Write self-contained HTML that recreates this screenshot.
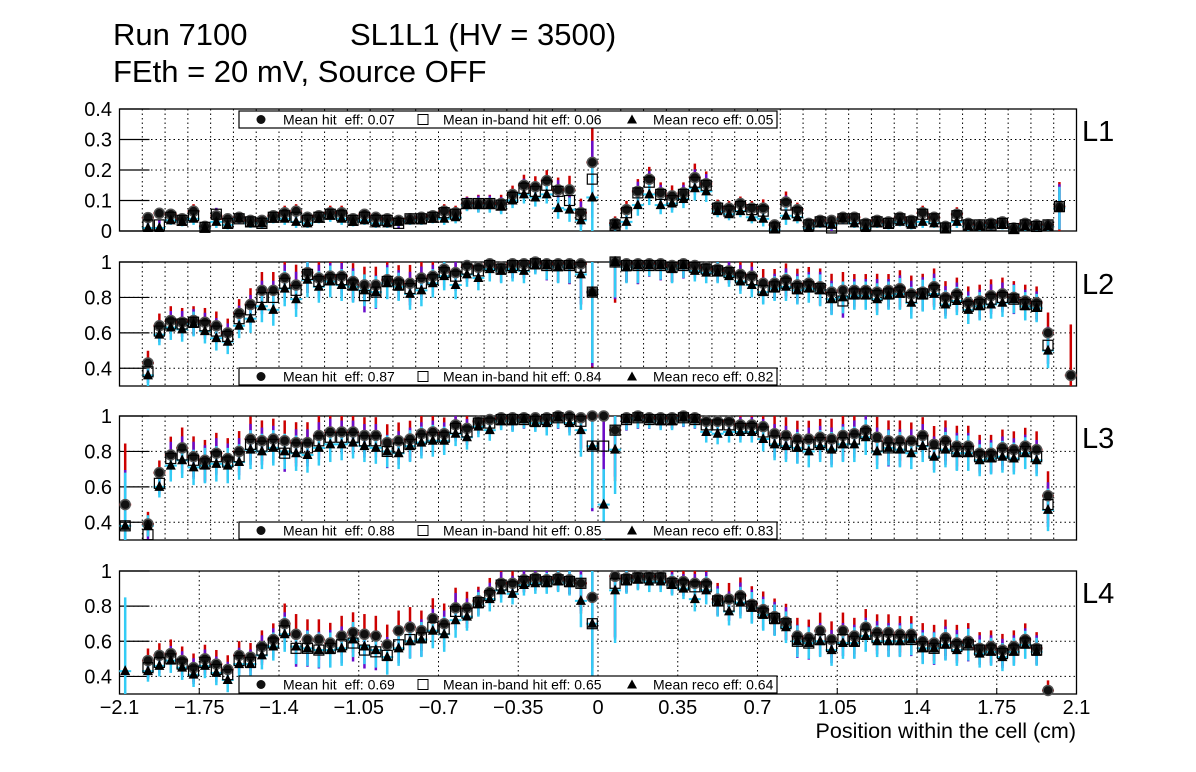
<!DOCTYPE html>
<html><head><meta charset="utf-8">
<style>
html,body{margin:0;padding:0;background:#fff;}
svg{display:block;font-family:"Liberation Sans",Arial,sans-serif;}
</style></head>
<body>
<svg id="c" width="1196" height="772" viewBox="0 0 1196 772">
<text x="113" y="45" font-size="31">Run 7100</text>
<text x="350" y="45" font-size="31">SL1L1 (HV = 3500)</text>
<text x="113" y="82" font-size="31">FEth = 20 mV, Source OFF</text>
<text x="1076" y="738" font-size="21.5" text-anchor="end">Position within the cell (cm)</text>
<g id="plots"></g>
</svg>
<script>
const xTicks=["\u22122.1","\u22121.75","\u22121.4","\u22121.05","\u22120.7","\u22120.35","0","0.35","0.7","1.05","1.4","1.75","2.1"];
const layers=["L1","L2","L3","L4"];
const meanHit=["0.07","0.87","0.88","0.69"];
const meanInband=["0.06","0.84","0.85","0.65"];
const meanReco=["0.05","0.82","0.83","0.64"];
const N=null;
const hitL1=[N,N,.044,.058,.055,.04,.065,.015,.05,.04,.045,.035,.035,.05,.06,.065,.045,.05,.06,.06,.04,.055,.045,.04,.035,.04,.045,.05,.065,.06,.09,.09,.09,.09,.12,.15,.145,.165,.135,.135,.06,.225,N,.025,.07,.13,.17,.125,.115,.125,.175,.155,.08,.075,.09,.075,.075,.02,.095,.07,.025,.035,.035,.045,.045,.025,.035,.03,.045,.035,.06,.045,.015,.055,.025,.02,.025,.03,.01,.025,.02,.02,.08,N];
const inbL1=[N,N,.02,.02,.045,.035,.05,.012,.055,.025,.04,.03,.025,.045,.05,.045,.035,.045,.055,.05,.035,.045,.035,.035,.025,.04,.04,.045,.06,.055,.09,.09,.09,.085,.11,.14,.13,.15,.13,.1,.055,.17,N,.02,.06,.125,.16,.12,.1,.12,.16,.15,.075,.065,.08,.07,.065,.01,.085,.06,.02,.03,.01,.04,.04,.02,.03,.025,.04,.03,.055,.04,.01,.05,.02,.02,.02,.025,.008,.02,.015,.02,.08,N];
const recoL1=[N,N,.01,.01,.035,.03,.04,.01,.03,.02,.04,.025,.025,.04,.04,.03,.025,.04,.05,.04,.03,.035,.025,.025,.03,.035,.035,.04,.04,.045,.085,.085,.085,.08,.1,.12,.11,.12,.075,.07,.035,.11,N,.02,.03,.085,.12,.085,.09,.105,.14,.13,.065,.055,.065,.045,.04,.005,.05,.045,.01,.025,.02,.04,.025,.01,.025,.02,.03,.02,.03,.025,.005,.03,.015,.015,.02,.02,.005,.015,.015,.015,.075,N];
const errL1=[N,N,.015,.015,.015,.015,.02,.01,.02,.015,.015,.015,.015,.015,.02,.02,.015,.015,.02,.02,.015,.015,.015,.015,.015,.015,.015,.015,.02,.02,.02,.025,.025,.025,.025,.03,.03,.03,.035,.04,.04,.12,N,.02,.025,.035,.035,.03,.03,.03,.04,.035,.02,.02,.02,.02,.025,.015,.03,.02,.015,.015,.015,.015,.015,.015,.015,.015,.015,.015,.02,.015,.015,.02,.015,.015,.015,.015,.015,.015,.015,.015,.07,N];
const hitL2=[N,N,.43,.64,.67,.66,.67,.66,.64,.6,.71,.76,.84,.84,.91,.87,.94,.91,.92,.92,.89,.87,.87,.9,.89,.88,.91,.92,.96,.94,.98,.97,.99,.97,.99,.99,1,.99,.99,.99,.99,.83,N,1,.99,.99,.99,.99,.98,.99,.98,.97,.96,.95,.93,.92,.88,.88,.9,.87,.88,.86,.83,.84,.84,.84,.83,.84,.85,.82,.83,.86,.8,.82,.77,.78,.81,.82,.8,.78,.77,.6,N,.36];
const inbL2=[N,N,.38,.61,.65,.65,.66,.64,.61,.58,.68,.73,.8,.8,.88,.84,.93,.89,.9,.9,.87,.81,.83,.89,.87,.85,.88,.9,.94,.92,.96,.95,.98,.96,.98,.98,.99,.98,.98,.98,.97,.83,N,1,.98,.98,.98,.98,.97,.98,.97,.96,.95,.94,.91,.9,.84,.86,.88,.85,.86,.85,.8,.78,.82,.82,.81,.82,.83,.8,.82,.84,.78,.8,.75,.76,.79,.8,.79,.76,.75,.53,N,N];
const recoL2=[N,N,.36,.59,.63,.62,.65,.61,.57,.55,.64,.68,.75,.73,.85,.79,.9,.86,.89,.87,.86,.84,.83,.88,.86,.82,.84,.88,.92,.87,.93,.91,.96,.95,.96,.95,.98,.98,.97,.98,.93,.83,N,1,.97,.98,.98,.98,.96,.98,.95,.94,.94,.92,.89,.87,.83,.85,.86,.84,.85,.84,.79,.8,.81,.81,.79,.81,.82,.77,.81,.82,.76,.78,.73,.75,.76,.77,.79,.75,.74,.5,N,N];
const errL2=[N,N,.06,.06,.07,.07,.07,.07,.07,.07,.07,.08,.09,.09,.1,.1,.1,.09,.09,.09,.09,.09,.09,.09,.08,.09,.09,.08,.08,.08,.07,.07,.07,.07,.07,.07,.05,.08,.09,.1,.2,.4,N,.2,.09,.1,.06,.08,.08,.07,.06,.06,.06,.06,.07,.07,.07,.07,.08,.08,.08,.09,.09,.09,.08,.08,.09,.08,.09,.09,.09,.09,.08,.08,.08,.08,.08,.08,.08,.08,.08,.1,N,.25];
const hitL3=[.5,N,.39,.68,.78,.82,.77,.75,.79,.76,.8,.87,.86,.87,.86,.85,.85,.89,.91,.91,.91,.89,.89,.85,.86,.87,.9,.91,.9,.95,.93,.97,.98,.99,.99,.99,.99,.99,1,1,.99,1,1,.92,.99,1,.99,.99,.99,1,.99,.97,.97,.97,.95,.95,.94,.9,.89,.87,.87,.88,.87,.89,.9,.92,.88,.86,.86,.86,.89,.84,.86,.83,.83,.79,.79,.82,.81,.83,.81,.55,N,N];
const inbL3=[.38,N,.33,.62,.76,.78,.75,.73,.77,.74,.77,.84,.83,.84,.79,.82,.82,.86,.88,.88,.88,.86,.86,.8,.82,.84,.87,.88,.88,.93,.91,.96,.96,.98,.98,.98,.97,.98,.99,.98,.97,.83,.83,.92,.98,.99,.98,.98,.98,.99,.98,.95,.95,.95,.93,.93,.91,.86,.85,.83,.84,.85,.83,.85,.87,.9,.83,.82,.82,.83,.86,.79,.83,.8,.8,.77,.77,.79,.78,.8,.77,.5,N,N];
const recoL3=[.38,N,.38,.6,.72,.75,.71,.72,.73,.72,.74,.81,.8,.82,.8,.79,.78,.82,.84,.84,.85,.83,.82,.8,.79,.83,.85,.86,.86,.9,.88,.94,.92,.97,.97,.98,.96,.96,.99,.96,.92,.83,.5,.81,.98,.99,.98,.97,.97,.99,.98,.91,.9,.91,.91,.91,.87,.84,.83,.82,.8,.83,.81,.84,.84,.88,.8,.82,.81,.79,.83,.77,.81,.79,.79,.75,.76,.77,.76,.79,.75,.47,N,N];
const errL3=[.3,N,.06,.06,.09,.1,.1,.1,.1,.1,.1,.11,.1,.1,.1,.1,.1,.1,.1,.09,.09,.09,.09,.09,.09,.09,.09,.09,.08,.07,.07,.06,.06,.05,.06,.05,.05,.07,.06,.07,.15,.35,.2,.25,.06,.06,.05,.05,.05,.05,.05,.06,.06,.06,.06,.06,.07,.09,.09,.09,.09,.09,.1,.1,.1,.1,.1,.1,.1,.09,.09,.09,.1,.1,.1,.09,.09,.09,.09,.09,.09,.12,N,N];
const hitL4=[N,N,.49,.52,.53,.49,.45,.5,.47,.44,.52,.51,.57,.61,.7,.64,.61,.61,.59,.63,.65,.64,.63,.58,.66,.68,.66,.73,.7,.79,.79,.83,.88,.93,.93,.95,.96,.95,.96,.95,.93,.85,N,.97,.96,.97,.97,.97,.94,.94,.93,.93,.84,.84,.86,.81,.78,.74,.71,.63,.62,.66,.61,.66,.63,.68,.65,.65,.64,.64,.6,.59,.62,.59,.6,.56,.57,.55,.57,.61,.56,.32,N,N];
const inbL4=[N,N,.45,.48,.5,.47,.43,.48,.44,.41,.49,.48,.55,.59,.66,.56,.56,.55,.56,.58,.59,.55,.54,.52,.58,.61,.62,.68,.67,.77,.76,.82,.86,.92,.91,.94,.95,.94,.95,.94,.93,.7,N,.93,.95,.96,.96,.96,.93,.92,.91,.91,.83,.8,.84,.8,.76,.73,.7,.6,.59,.61,.57,.61,.6,.64,.62,.61,.61,.61,.57,.56,.59,.57,.58,.55,.55,.53,.55,.59,.55,N,N,N];
const recoL4=[.43,N,.43,.46,.49,.45,.41,.46,.42,.38,.47,.47,.52,.57,.64,.57,.56,.55,.55,.56,.61,.57,.55,.51,.56,.6,.61,.66,.64,.72,.74,.81,.84,.89,.87,.92,.93,.93,.94,.93,.83,.7,N,.89,.94,.95,.94,.94,.92,.9,.84,.89,.82,.77,.82,.79,.75,.72,.68,.6,.59,.6,.55,.59,.59,.63,.6,.6,.6,.61,.56,.56,.58,.55,.58,.53,.54,.51,.54,.58,.54,N,N,N];
const errL4=[.42,N,.06,.06,.07,.07,.07,.07,.07,.07,.07,.07,.08,.08,.1,.1,.1,.1,.1,.1,.1,.1,.1,.1,.1,.1,.1,.1,.1,.1,.08,.07,.07,.07,.06,.06,.06,.06,.06,.07,.15,.35,N,.3,.07,.06,.06,.06,.06,.06,.07,.08,.08,.08,.09,.09,.09,.09,.09,.09,.09,.09,.09,.09,.09,.09,.09,.09,.09,.09,.09,.09,.09,.09,.09,.08,.08,.08,.08,.08,.08,.05,N,N];
const hitS=[hitL1,hitL2,hitL3,hitL4], inbS=[inbL1,inbL2,inbL3,inbL4], recoS=[recoL1,recoL2,recoL3,recoL4], errS=[errL1,errL2,errL3,errL4];
const yTickL1=["0","0.1","0.2","0.3","0.4"], yTickOther=["0.4","0.6","0.8","1"];

const NS="http://www.w3.org/2000/svg";
const X0=119.5,X1=1076.5,XMIN=-2.1,XMAX=2.1;
const xs=v=>X0+(v-XMIN)/(XMAX-XMIN)*(X1-X0);
const panels=[[109,231,0,0.4],[262,386,0.3,1.0],[416,540,0.3,1.0],[571,694,0.3,1.0]];
const root=document.getElementById('plots');
function mk(tag,attrs,parent){const e=document.createElementNS(NS,tag);for(const k in attrs)e.setAttribute(k,attrs[k]);(parent||root).appendChild(e);return e;}

panels.forEach((p,pi)=>{
  const [top,bot,ymin,ymax]=p;
  const ys=v=>bot-(v-ymin)/(ymax-ymin)*(bot-top);
  const g=mk('g',{});
  
  
  const gx=[];
  if(pi<3){for(let i=-20;i<=20;i++)gx.push(i/10);}else{for(let i=-5;i<=5;i++)gx.push(i*0.35);}
  gx.forEach(v=>{const l=mk('line',{x1:xs(v),x2:xs(v),y1:top,y2:bot,stroke:'#000','stroke-width':1,'stroke-dasharray':'1.5,3'},g);
    });
  const yt=pi===0?yTickL1:yTickOther;
  yt.forEach(t=>{const v=parseFloat(t);const y=ys(v);
    if(y>top+1&&y<bot-1){const l=mk('line',{x1:X0,x2:X1,y1:y,y2:y,stroke:'#000','stroke-width':1,'stroke-dasharray':'1.5,3'},g);
      }
    const tk=mk('line',{x1:X0,x2:X0+30,y1:y,y2:y,stroke:'#000','stroke-width':1.2},g);
    
    const tx=mk('text',{x:112,y:y+7,'font-size':20,'text-anchor':'end'},g);tx.textContent=t;
    
  });
  const fr=mk('rect',{x:X0,y:top,width:X1-X0,height:bot-top,fill:'none',stroke:'#000','stroke-width':1.3},g);
  
  const lab=mk('text',{x:1082,y:top+32,'font-size':29},g);lab.textContent=layers[pi];
  
  if(pi===3){xTicks.forEach((t,i)=>{const x=xs(-2.1+0.35*i);
    const tk=mk('line',{x1:x,x2:x,y1:bot,y2:bot-6,stroke:'#000'},g);
    
    const tx=mk('text',{x:x,y:714,'font-size':20,'text-anchor':'middle'},g);tx.textContent=t;
    });}
  const H=hitS[pi],I=inbS[pi],R=recoS[pi],E=errS[pi];
  const clip=v=>Math.max(top,Math.min(bot,v));
  for(let k=0;k<84;k++){
    const xv=-2.075+0.05*k,x=xs(xv),e=E[k]||0.02;
    const dg=mk('g',{},g);
    
    if(H[k]!==null){mk('line',{x1:x,x2:x,y1:clip(ys(H[k]+e*1.15)),y2:clip(ys(H[k]-e*1.15)),stroke:'#cc0000','stroke-width':2.5},dg);
      mk('line',{x1:x-6,x2:x+6,y1:ys(H[k]),y2:ys(H[k]),stroke:'#cc0000','stroke-width':2},dg);}
    if(I[k]!==null){mk('line',{x1:x,x2:x,y1:clip(ys(I[k]+e*1.05)),y2:clip(ys(I[k]-e*1.05)),stroke:'#6a0dcc','stroke-width':2.5},dg);}
    if(R[k]!==null){mk('line',{x1:x,x2:x,y1:clip(ys(R[k]+e)),y2:clip(ys(R[k]-e)),stroke:'#33ccf5','stroke-width':2.5},dg);
      mk('line',{x1:x-6,x2:x+6,y1:ys(R[k]),y2:ys(R[k]),stroke:'#33ccf5','stroke-width':2},dg);}
    if(H[k]!==null){const c=mk('circle',{cx:x,cy:ys(H[k]),r:5,fill:'#111',stroke:'#555','stroke-width':1.5},dg);
      }
    if(I[k]!==null){const r=mk('rect',{x:x-5,y:ys(I[k])-5,width:10,height:10,fill:'none',stroke:'#000','stroke-width':1.2},dg);
      }
    if(R[k]!==null){const y=ys(R[k]);const t=mk('polygon',{points:`${x-5},${y+4} ${x+5},${y+4} ${x},${y-6}`,fill:'#000'},dg);
      }
  }
  const ly=pi===0?top+2:bot-18;
  const lg=mk('g',{},g);
  
  mk('rect',{x:239,y:ly,width:538,height:17,fill:'#fff',stroke:'#000','stroke-width':1.2},lg);
  const cy=ly+8.5;
  mk('circle',{cx:261,cy:cy,r:4.5,fill:'#111'},lg);
  let t=mk('text',{x:283,y:cy+5,'font-size':14},lg);t.textContent='Mean hit\u00a0 eff: '+meanHit[pi];
  
  mk('rect',{x:418,y:cy-5,width:10,height:10,fill:'none',stroke:'#000'},lg);
  t=mk('text',{x:443,y:cy+5,'font-size':14},lg);t.textContent='Mean in-band hit eff: '+meanInband[pi];
  
  mk('polygon',{points:`${627},${cy+4} ${637},${cy+4} ${632},${cy-5}`,fill:'#000'},lg);
  t=mk('text',{x:653,y:cy+5,'font-size':14},lg);t.textContent='Mean reco eff: '+meanReco[pi];
  
});
</script>
</body></html>
